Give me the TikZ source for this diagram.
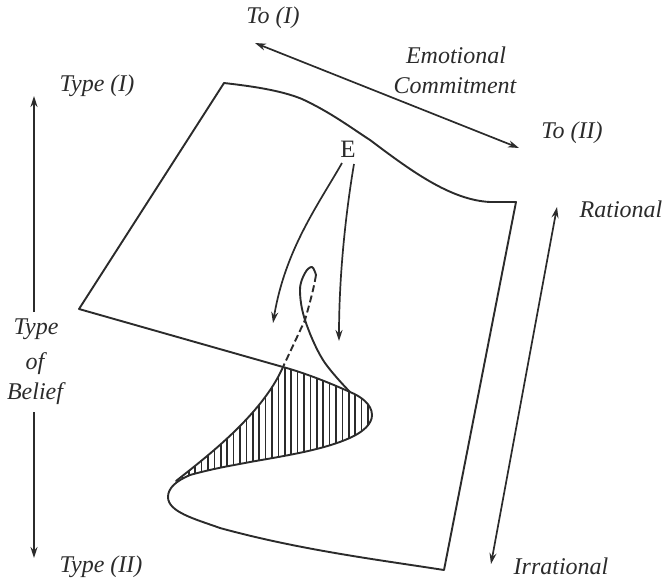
\documentclass[tikz,border=0pt]{standalone}
\usepackage{fontspec}
\setmainfont{Liberation Serif}
\usetikzlibrary{arrows.meta}
\definecolor{ink}{HTML}{2B2B2B}
\tikzset{
  edgeline/.style={draw=ink,line width=1.9pt,line join=round,line cap=round},
  axisline/.style={draw=ink,line width=1.7pt,-{Stealth[length=11pt,width=7pt]}},
  bothline/.style={draw=ink,line width=1.7pt,{Stealth[length=11pt,width=7pt]}-{Stealth[length=11pt,width=7pt]}},
  lab/.style={text=ink,font=\fontsize{24}{26}\selectfont\itshape,inner sep=0pt,align=center},
}
\begin{document}
\begin{tikzpicture}[x=1pt,y=-1pt]
\useasboundingbox (0,0) rectangle (668,584);
% hatching
\begin{scope}
\clip (176,481) .. controls (205,458) and (262,415) .. (283,367)
  .. controls (305,373) and (330,383) .. (350,392)
  .. controls (360,396) and (372,404) .. (372,415)
  .. controls (372,423) and (365,432) .. (345,440)
  .. controls (320,450) and (290,455) .. (250,462)
  .. controls (235,465) and (215,468) .. (190,475) -- cycle;
\foreach \x in {176,182.4,...,372} \draw[ink,line width=1.6pt] (\x,350) -- (\x,490);
\end{scope}
% sheet outline
\draw[edgeline] (283,367) -- (79,309) -- (224,83)
  .. controls (250,86) and (280,90) .. (302,99)
  .. controls (330,112) and (350,127) .. (370,140)
  .. controls (410,170) and (450,200) .. (490,202)
  -- (516,202) -- (444,570)
  .. controls (380,560) and (300,550) .. (220,528)
  .. controls (195,519) and (168,512) .. (168,497)
  .. controls (168,488) and (176,481) .. (190,475)
  .. controls (215,468) and (235,465) .. (250,462)
  .. controls (290,455) and (320,450) .. (345,440)
  .. controls (365,432) and (372,423) .. (372,415)
  .. controls (372,404) and (360,396) .. (350,392)
  .. controls (330,383) and (305,373) .. (283,367);
% fold
\draw[edgeline] (176,481) .. controls (205,458) and (262,415) .. (283,367);
\draw[edgeline] plot[smooth,tension=.6] coordinates {(350,392) (323,360) (305,320) (300,290) (305,273) (312,267) (316,275)};
\draw[edgeline,line cap=butt,dash pattern=on 7pt off 3.5pt] (316,275) .. controls (313,292) and (310,302) .. (305,320) -- (283,367);
% E arrows
\node[lab,font=\fontsize{25}{26}\selectfont] (e) at (348,149) {E};
\coordinate (e1) at (342,163); \coordinate (t1) at (273,323);
\coordinate (e2) at (354,164); \coordinate (t2) at (339,341);
\draw[axisline] (e1) .. controls (318,205) and (285,250) .. (t1);
\draw[axisline] (e2) .. controls (347,205) and (339,270) .. (t2);
% axes
\coordinate (a1) at (255,43); \coordinate (a2) at (519,148);
\draw[bothline] (a1) -- (a2);
\coordinate (r1) at (557,207); \coordinate (r2) at (491,564);
\draw[bothline] (r1) -- (r2);
\coordinate (b1) at (34,96); \coordinate (b2) at (34,312);
\coordinate (b3) at (34,412); \coordinate (b4) at (34,558);
\draw[axisline] (b2) -- (b1);
\draw[axisline] (b3) -- (b4);
% labels
\node[lab] (toa) at (273,18) {To (I)};
\node[lab] (emo) at (456,55) {Emotional};
\node[lab] (com) at (455,86) {Commitment};
\node[lab] (tob) at (572,133) {To (II)};
\node[lab] (rat) at (621,209) {Rational};
\node[lab] (tya) at (97,86) {Type (I)};
\node[lab] (tyb) at (36,329) {Type};
\node[lab] (tyc) at (35,364) {of};
\node[lab] (tyd) at (35,394) {Belief};
\node[lab] (tye) at (101,567) {Type (II)};
\node[lab] (irr) at (561,566) {Irrational};
\end{tikzpicture}
\end{document}
